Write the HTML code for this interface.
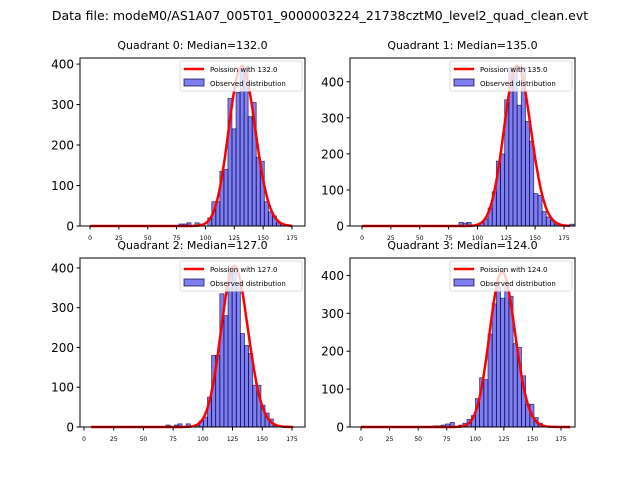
<!DOCTYPE html>
<html><head><meta charset="utf-8"><style>
body{margin:0;background:#fff;font-family:"Liberation Sans","DejaVu Sans",sans-serif}
svg text{font-family:"DejaVu Sans","Liberation Sans",sans-serif}
</style></head><body>
<svg id="fig" width="640" height="480" xmlns="http://www.w3.org/2000/svg">
<text x="320" y="20" font-size="12.5" text-anchor="middle">Data file: modeM0/AS1A07_005T01_9000003224_21738cztM0_level2_quad_clean.evt</text>
</svg>
<script>
// Quadrant 0
const q0Start = 102, q0Width = 3.5;
const q0Counts = [20,60,60,135,140,315,240,330,395,390,270,305,170,160,60,35,25,8,5];
const q0Small = [[77,5],[81,5],[84,8],[91,8],[95,5]];
const q0Lambda = 132, q0Peak = 395;
const q0Yticks = [0,100,200,300,400];
// Quadrant 1
const q1Start = 102, q1Width = 3.6;
const q1Counts = [10,20,50,95,180,200,350,440,440,335,440,290,235,90,85,40,25,15,5];
const q1Small = [[84,10],[88,8],[91,10],[180,5]];
const q1Lambda = 135, q1Peak = 445;
const q1Yticks = [0,100,200,300,400];
// Quadrant 2
const q2Start = 93.5, q2Width = 3.46;
const q2Counts = [5,15,25,75,180,180,335,280,400,390,360,235,205,185,105,105,55,35,20,5];
const q2Small = [[69,5],[76,5],[79,8],[86,8]];
const q2Lambda = 127, q2Peak = 405;
const q2Yticks = [0,100,200,300,400];
// Quadrant 3
const q3Start = 85.5, q3Width = 3.66;
const q3Counts = [5,10,20,30,75,130,125,245,325,370,340,380,345,220,210,135,60,60,25,10];
const q3Small = [[63,3],[67,3],[70,5],[74,8],[78,12]];
const q3Lambda = 124, q3Peak = 410;
const q3Yticks = [0,100,200,300,400];
const xTicks = [0,25,50,75,100,125,150,175];

const NS="http://www.w3.org/2000/svg";
const fig=document.getElementById('fig');
function mk(tag,attrs,parent){const e=document.createElementNS(NS,tag);for(const k in attrs)e.setAttribute(k,attrs[k]);(parent||fig).appendChild(e);return e;}

function lgamma(n){let s=0;for(let i=2;i<=n;i++)s+=Math.log(i);return s;}

function panel(idx,box,x0,x0v,x1,x1v,ymax,start,width,counts,small,lambda,peak,yticks,curveMin,curveMax){
  const g=mk('g',{});
  
  
  const sx=v=>x0+(v-x0v)*(x1-x0)/(x1v-x0v);
  const sy=v=>box.b-v*(box.b-box.t)/ymax;
  const t=mk('text',{x:(box.l+box.r)/2,y:box.t-9,'font-size':'11','text-anchor':'middle'},g);
  t.textContent='Quadrant '+idx+': Median='+lambda.toFixed(1);
  
  
  const bars=[...small.map(s=>({x:s[0],c:s[1]})),...counts.map((c,i)=>({x:start+i*width,c}))];
  bars.forEach(b=>{
    const r=mk('rect',{x:sx(b.x),y:sy(b.c),width:sx(b.x+width)-sx(b.x),height:box.b-sy(b.c),fill:'rgba(0,0,230,0.5)',stroke:'rgba(0,0,60,0.7)','stroke-width':'0.8'},g);
    
    
  });
  const lpk=Math.exp(Math.round(lambda)*Math.log(lambda)-lambda-lgamma(Math.round(lambda)));
  let d='';
  for(let k=curveMin;k<=curveMax;k++){
    const p=Math.exp(k*Math.log(lambda)-lambda-lgamma(k));
    const v=p/lpk*peak;
    d+=(d?'L':'M')+sx(k).toFixed(1)+','+sy(v).toFixed(1);
  }
  const pl=mk('path',{d,fill:'none',stroke:'#ff0000','stroke-width':'2.5'},g);
  
  
  const ax=mk('rect',{x:box.l,y:box.t,width:box.r-box.l,height:box.b-box.t,fill:'none',stroke:'#000','stroke-width':'1'},g);
  
  
  xTicks.forEach(v=>{
    mk('line',{x1:sx(v),x2:sx(v),y1:box.b,y2:box.b+3.5,stroke:'#000'},g);
    const tt=mk('text',{x:sx(v),y:box.b+14,'font-size':'6','text-anchor':'middle'},g);
    tt.textContent=v;
    
    
  });
  yticks.forEach(v=>{
    mk('line',{x1:box.l-3.5,x2:box.l,y1:sy(v),y2:sy(v),stroke:'#000'},g);
    const tt=mk('text',{x:box.l-6,y:sy(v)+4.5,'font-size':'12','text-anchor':'end'},g);
    tt.textContent=v;
    
    
  });
  const lg=mk('g',{},g);
  
  
  const lx=box.r-125, ly=box.t+3;
  mk('rect',{x:lx,y:ly,width:122,height:30,fill:'rgba(255,255,255,0.8)',stroke:'#ddd',rx:2},lg);
  mk('line',{x1:lx+4,x2:lx+24,y1:ly+8,y2:ly+8,stroke:'#f00','stroke-width':'2.5'},lg);
  const l1=mk('text',{x:lx+30,y:ly+11,'font-size':'7'},lg);l1.textContent='Poission with '+lambda.toFixed(1);
  mk('rect',{x:lx+4,y:ly+18,width:20,height:7,fill:'rgba(0,0,230,0.5)',stroke:'rgba(0,0,60,0.7)'},lg);
  const l2=mk('text',{x:lx+30,y:ly+25,'font-size':'7'},lg);l2.textContent='Observed distribution';
}
panel(0,{l:80,r:305,t:58,b:226},90,0,292,175,415,q0Start,q0Width,q0Counts,q0Small,q0Lambda,q0Peak,q0Yticks,0,175);
panel(1,{l:350,r:575,t:58,b:226},362,0,564,175,466,q1Start,q1Width,q1Counts,q1Small,q1Lambda,q1Peak,q1Yticks,0,180);
panel(2,{l:80,r:305,t:258,b:427},84,0,292,175,425,q2Start,q2Width,q2Counts,q2Small,q2Lambda,q2Peak,q2Yticks,6,176);
panel(3,{l:350,r:575,t:258,b:427},361,0,561,175,446,q3Start,q3Width,q3Counts,q3Small,q3Lambda,q3Peak,q3Yticks,0,183);
</script>
</body></html>
